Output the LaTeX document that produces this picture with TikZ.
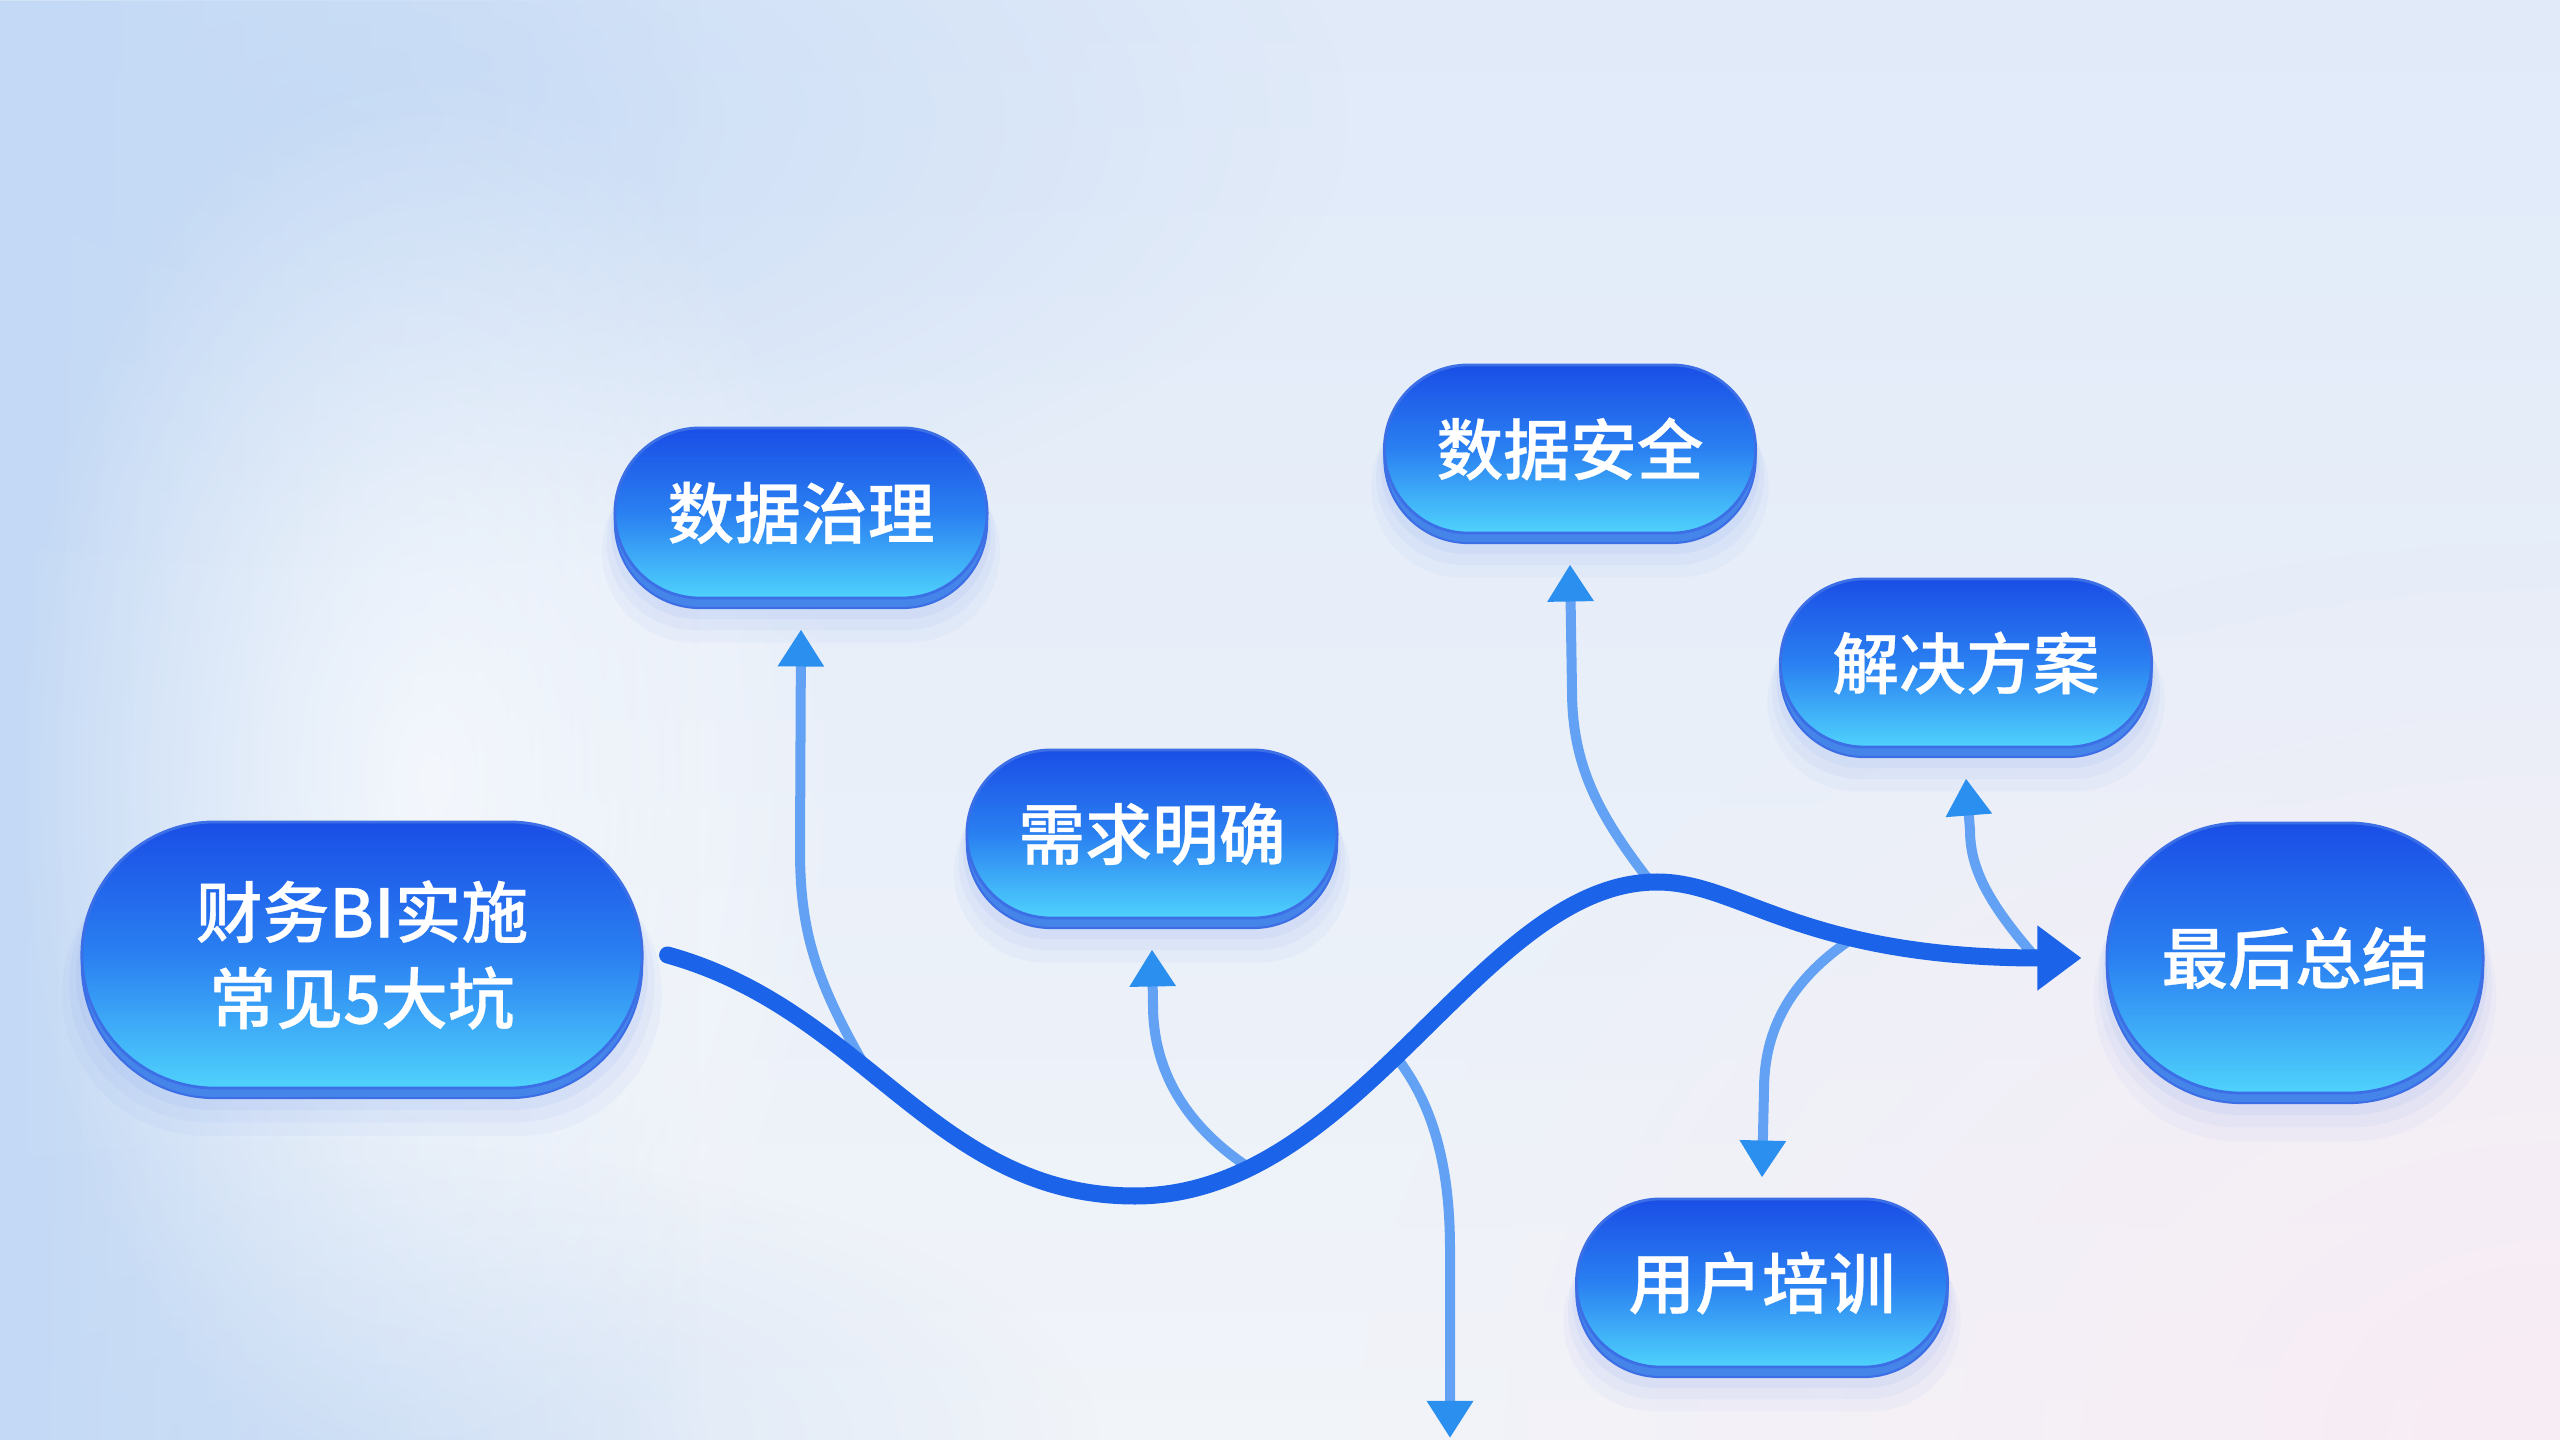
\documentclass[tikz,border=0pt]{standalone}
\usepackage{fontspec}
\newfontfamily\cjk{Noto Sans CJK SC Medium}[FakeBold=0.5]
\usetikzlibrary{arrows.meta,shapes.misc,shadows,fadings}

\definecolor{facetop}{HTML}{1A4EE6}
\definecolor{facemid}{HTML}{2A80F1}
\definecolor{facebot}{HTML}{4FD2FC}
\definecolor{rim}{HTML}{4585EA}
\definecolor{edge}{HTML}{3C6FE6}
\definecolor{halo}{HTML}{6A8EF0}
\definecolor{mainline}{HTML}{1B63E9}
\definecolor{branch}{HTML}{62A1F3}
\definecolor{branchtip}{HTML}{2A8FEF}
\definecolor{bgtop}{HTML}{E0EAF9}
\definecolor{bgbot}{HTML}{F1F4F9}
\definecolor{bgleft}{HTML}{C3D9F5}
\definecolor{bgpink}{HTML}{F8ECF4}

\tikzfading[name=fadeR, left color=transparent!0, right color=transparent!100]
\tikzfading[name=softglow, inner color=transparent!0, outer color=transparent!100]

\tikzset{
  pill/.style={rounded rectangle, minimum width=#1, inner sep=0pt,
    draw=edge, line width=0.8pt,
    top color=facetop, bottom color=facebot, middle color=facemid,
    text=white, font=\cjk\fontsize{19pt}{24.5pt}\selectfont, align=center,
    general shadow={shadow yshift=-0.36cm, shadow scale=1.07, fill=halo, opacity=0.05},
    general shadow={shadow yshift=-0.27cm, shadow scale=1.045, fill=halo, opacity=0.06},
    general shadow={shadow yshift=-0.19cm, shadow scale=1.02, fill=halo, opacity=0.08},
    general shadow={shadow yshift=-0.10cm, fill=rim, draw=edge, line width=0.6pt}},
  mainpath/.style={draw=mainline, line width=0.17cm, line cap=round,
    -{Triangle[length=0.44cm, width=0.62cm]}},
  branchline/.style={draw=branch, line width=0.1cm,
    -{Triangle[length=0.37cm, width=0.44cm, color=branchtip]}},
}

\begin{document}
\begin{tikzpicture}[x=0.01cm, y=-0.01cm]
\useasboundingbox (0,0) rectangle (2560,1440);
% background
\shade[top color=bgtop, bottom color=bgbot] (0,0) rectangle (2560,1440);
\fill[bgleft, path fading=fadeR] (0,0) rectangle (700,1440);
\fill[bgleft, opacity=0.8, path fading=softglow] (350,120) ellipse (1000 and 450);
\fill[bgleft, opacity=0.6, path fading=softglow] (300,1440) ellipse (800 and 300);
\fill[bgpink, path fading=softglow] (2560,1440) ellipse (1200 and 900);
\fill[white, opacity=0.7, path fading=softglow] (430,780) ellipse (420 and 720);

% nodes
\node[pill=5.6cm, minimum height=2.66cm] (a) at (362,955) {财务BI实施\\常见5大坑};
\node[pill=3.72cm, minimum height=1.70cm] (dz) at (801,513) {数据治理};
\node[pill=3.70cm, minimum height=1.68cm] (xq) at (1152,834) {需求明确};
\node[pill=3.71cm, minimum height=1.68cm] (aq) at (1570,449) {数据安全};
\node[pill=3.71cm, minimum height=1.68cm] (jj) at (1966,663) {解决方案};
\node[pill=3.76cm, minimum height=2.70cm] (zj) at (2295,958) {最后总结};
\node[pill=3.71cm, minimum height=1.68cm] (yh) at (1762,1283) {用户培训};

% junctions on the main curve
\coordinate (m0) at ([xshift=0.24cm]a.east);
\coordinate (m1) at ([xshift=-0.24cm]zj.west);
\coordinate (p1) at (1135,1196);
\coordinate (p2) at (1657,882);
\coordinate (j1) at (866,1068);
\coordinate (j2) at (1248,1167);
\coordinate (j3) at (1652,884);
\coordinate (j4) at (2036,958);
\coordinate (j5) at (1853,938);
\coordinate (j6) at (1400,1062);
\coordinate (dn) at (1450,1438);

% branches
\draw[branchline] (j1) .. controls (815,980) and (800,930) .. (800,850) -- ([yshift=-0.3cm]dz.south);
\draw[branchline] (j2) .. controls (1185,1125) and (1153,1070) .. (1153,1005) -- ([yshift=-0.3cm]xq.south);
\draw[branchline] (j3) .. controls (1598,815) and (1572,765) .. (1572,690) -- ([yshift=-0.3cm]aq.south);
\draw[branchline] (j4) .. controls (1990,905) and (1970,870) .. (1970,830) -- ([yshift=-0.3cm]jj.south);
\draw[branchline] (j5) .. controls (1790,980) and (1764,1030) .. (1764,1090) -- ([yshift=0.2cm]yh.north);
\draw[branchline] (j6) .. controls (1435,1110) and (1450,1170) .. (1450,1250) -- (dn);

% main curve
\draw[mainpath] (m0) .. controls (866,1010) and (935,1196) .. (p1)
  .. controls (1360,1196) and (1480,882) .. (p2)
  .. controls (1740,882) and (1800,958) .. (m1);
\end{tikzpicture}
\end{document}
